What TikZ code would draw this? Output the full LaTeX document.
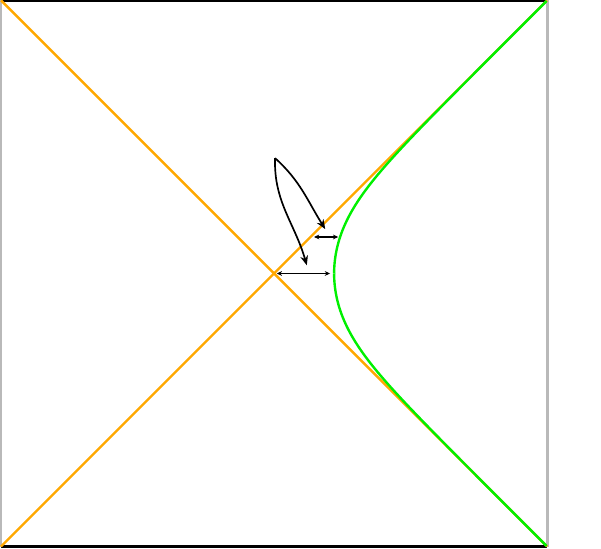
\documentclass[tikz,border=0pt]{standalone}
\usepackage{tikz}
\usetikzlibrary{arrows.meta}
\definecolor{horizon}{RGB}{255,168,0}
\definecolor{observer}{RGB}{0,240,0}
\definecolor{edgegray}{RGB}{185,185,185}
\tikzset{
	edge/.style={line width=1.2pt},
	null/.style={horizon,line width=1pt},
	orbit/.style={observer,line width=1pt,domain=0:1.7664,samples=150},
	push/.style={-{Stealth[length=4pt,width=3.2pt]},line width=0.7pt},
	gap/.style={{Stealth[length=2.2pt,width=2pt]}-{Stealth[length=2.2pt,width=2pt]},line width=0.5pt}
}
\begin{document}
\begin{tikzpicture}
	\useasboundingbox (-4.015,-4.022) rectangle (4.79,4.007);
	\coordinate (sw) at (-4,-4);
	\coordinate (se) at (4,-4);
	\coordinate (ne) at (4,4);
	\coordinate (nw) at (-4,4);
	\draw[edge,edgegray] (sw) -- (nw);
	\draw[edge,edgegray] (se) -- (ne);
	\draw[edge] (nw) -- (ne);
	\draw[edge] (sw) -- (se);
	\draw[null] (sw) -- (ne);
	\draw[null] (nw) -- (se);
	\begin{scope}
		\clip (sw) rectangle (ne);
		\draw[orbit] plot ({0.88+(\x)^2},{sqrt(max(0,(0.88+(\x)^2)^2-0.7744*exp(-2*(\x)^2)))});
		\draw[orbit] plot ({0.88+(\x)^2},{-sqrt(max(0,(0.88+(\x)^2)^2-0.7744*exp(-2*(\x)^2)))});
	\end{scope}
	\coordinate (src) at (0.015,1.69);
	\coordinate (tipa) at (0.75,0.65);
	\coordinate (tipb) at (0.48,0.12);
	\draw[push] (src) to[out=-42,in=122] (tipa);
	\draw[push] (src) to[out=-92,in=106] (tipb);
	\coordinate (ua) at (0.586,0.535);
	\coordinate (ub) at (0.94,0.535);
	\coordinate (la) at (0.04,0);
	\coordinate (lb) at (0.82,0);
	\draw[gap] (ua) -- (ub);
	\draw[gap] (la) -- (lb);
\end{tikzpicture}
\end{document}
